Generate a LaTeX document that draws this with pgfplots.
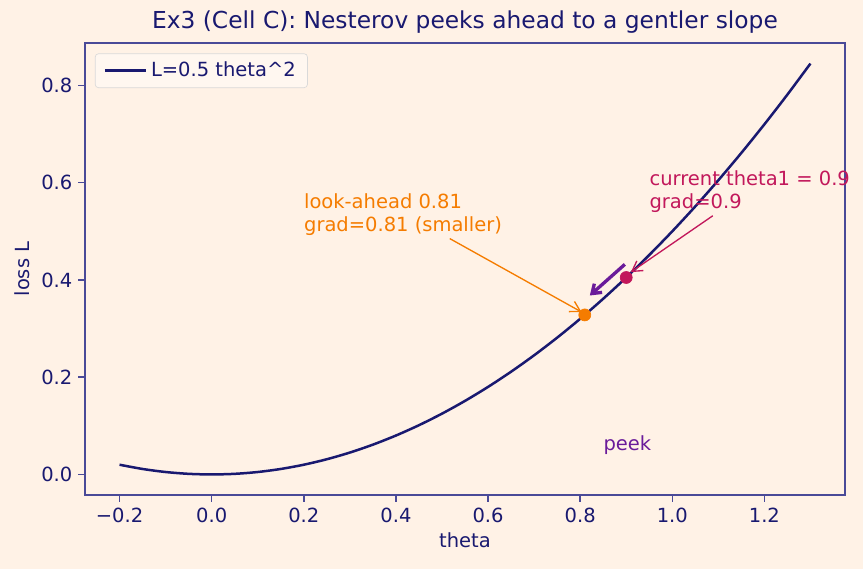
\documentclass[border=0pt]{standalone}
\usepackage{pgfplots}
\pgfplotsset{compat=1.18}
\usepackage{fontspec}
\setmainfont{DejaVu Sans}
\usetikzlibrary{arrows.meta}

\definecolor{bg}{HTML}{FFF2E6}
\definecolor{navy}{HTML}{191970}
\definecolor{spine}{HTML}{4A4A98}
\definecolor{crim}{HTML}{C2185B}
\definecolor{orng}{HTML}{F57C00}
\definecolor{purp}{HTML}{6A1B9A}

\newcommand{\fs}{\fontsize{11.7}{14}\selectfont}

\begin{document}
\begin{tikzpicture}[x=1pt,y=1pt]
\path[fill=bg] (0,0) rectangle (517.8,341.4);
\begin{axis}[
  at={(51pt,44.4pt)}, anchor=south west,
  scale only axis, width=456pt, height=271.2pt,
  xmin=-0.275, xmax=1.375, ymin=-0.04225, ymax=0.88725,
  axis background/.style={fill=bg},
  axis line style={spine, line width=0.9pt},
  xtick={-0.2,0,0.2,0.4,0.6,0.8,1.0,1.2},
  xticklabels={−0.2,0.0,0.2,0.4,0.6,0.8,1.0,1.2},
  ytick={0,0.2,0.4,0.6,0.8},
  yticklabels={0.0,0.2,0.4,0.6,0.8},
  tick align=outside, tick pos=left,
  major tick length=4.1pt,
  tick style={spine, line width=0.9pt},
  ticklabel style={font=\fs, text=navy},
  xlabel={theta}, ylabel={loss L},
  label style={font=\fs, text=navy},
  xlabel style={yshift=1pt},
  title={Ex3 (Cell C): Nesterov peeks ahead to a gentler slope},
  title style={font=\fontsize{14}{16}\selectfont, text=navy, yshift=-4pt},
  legend style={font=\fs, text=navy, fill=bg!60!white,
    draw=black!15, rounded corners=2pt, inner xsep=5pt, inner ysep=3pt,
    at={(0.013,0.977)}, anchor=north west},
  legend image code/.code={\draw[#1] (0pt,0pt) -- (25pt,0pt);},
  legend cell align=left,
  clip=false,
]
\addplot[navy, line width=1.5pt, smooth] table {
x y
-0.20 0.02
-0.15 0.01125
-0.10 0.005
-0.05 0.00125
0.00 0
0.05 0.00125
0.10 0.005
0.15 0.01125
0.20 0.02
0.25 0.03125
0.30 0.045
0.35 0.06125
0.40 0.08
0.45 0.10125
0.50 0.125
0.55 0.15125
0.60 0.18
0.65 0.21125
0.70 0.245
0.75 0.28125
0.80 0.32
0.85 0.36125
0.90 0.405
0.95 0.45125
1.00 0.5
1.05 0.55125
1.10 0.605
1.15 0.66125
1.20 0.72
1.25 0.78125
1.30 0.845
};
\addlegendentry{L=0.5 theta\^{}2}

% current point and look-ahead point
\addplot[only marks, mark=*, mark size=3.6pt, crim, forget plot] coordinates {(0.9,0.405)};
\addplot[only marks, mark=*, mark size=3.6pt, orng, forget plot] coordinates {(0.81,0.32805)};

% annotations
\draw[crim, line width=0.8pt, -{Straight Barb[length=6pt,width=7pt]}]
  (axis cs:1.088,0.532) -- (axis cs:0.910,0.416);
\node[crim, anchor=base west, align=left, inner sep=0pt,
  font=\fontsize{11.7}{13.8}\selectfont] at (axis cs:0.95,0.547)
  {current theta1 = 0.9\\grad=0.9};

\draw[orng, line width=0.8pt, -{Straight Barb[length=6pt,width=7pt]}]
  (axis cs:0.517,0.485) -- (axis cs:0.803,0.334);
\node[orng, anchor=base west, align=left, inner sep=0pt,
  font=\fontsize{11.7}{13.8}\selectfont] at (axis cs:0.2,0.5)
  {look-ahead 0.81\\grad=0.81 (smaller)};

\draw[purp, line width=2pt, -{Straight Barb[length=5pt,width=7pt]}]
  (axis cs:0.897,0.432) -- (axis cs:0.821,0.368);
\node[purp, anchor=base west, inner sep=0pt, font=\fs]
  at (axis cs:0.85,0.05) {peek};
\end{axis}
\end{tikzpicture}
\end{document}
